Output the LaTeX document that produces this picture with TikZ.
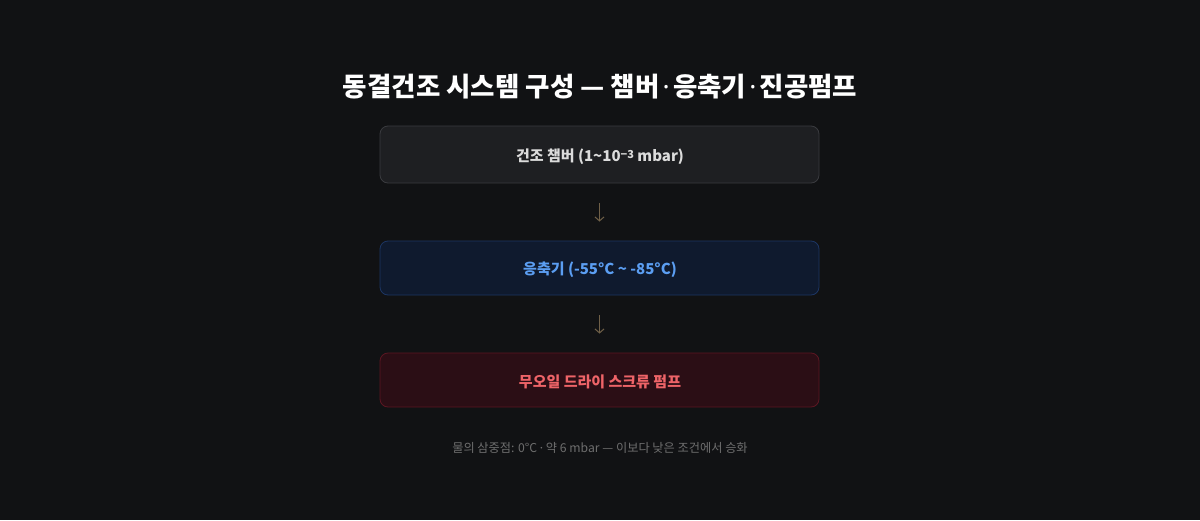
\documentclass[tikz,border=0pt]{standalone}
\usepackage{fontspec}
\setmainfont{Noto Sans CJK KR}
\newfontfamily\latinf{Noto Sans}
\newcommand{\mdot}{\hspace{0.12em}{\latinf ·}\hspace{0.12em}}
\usetikzlibrary{arrows.meta}
\definecolor{bg}{HTML}{111214}
\definecolor{boxAfill}{HTML}{1E1F22}
\definecolor{boxAdraw}{HTML}{3A3B3F}
\definecolor{boxAtext}{HTML}{DCDCDC}
\definecolor{boxBfill}{HTML}{0F1A2E}
\definecolor{boxBdraw}{HTML}{1C3563}
\definecolor{boxBtext}{HTML}{5B9EF2}
\definecolor{boxCfill}{HTML}{2B0E15}
\definecolor{boxCdraw}{HTML}{5C1622}
\definecolor{boxCtext}{HTML}{EE6468}
\definecolor{arrowc}{HTML}{706048}
\definecolor{notec}{HTML}{6E6E6E}
\tikzset{
  x=1pt,y=-1pt,
  stagebox/.style={rectangle,rounded corners=8pt,minimum width=439pt,line width=0.8pt,
    inner sep=0pt,font=\fontsize{15}{17}\selectfont\bfseries},
  stagetext/.style={font=\fontsize{15}{17}\selectfont\bfseries,inner sep=0pt},
  flowarrow/.style={draw=arrowc,line width=1pt,-{Straight Barb[length=4pt,width=9pt]},
    shorten <=20pt,shorten >=19pt},
}
\begin{document}
\begin{tikzpicture}
\fill[bg] (0,0) rectangle (1200,520);
\useasboundingbox (0,0) rectangle (1200,520);
\node[text=white,font=\fontsize{26.5}{30}\selectfont\bfseries] (title) at (600,87) {동결건조 시스템 구성 — 챔버\mdot 응축기\mdot 진공펌프};
\node[stagebox,fill=boxAfill,draw=boxAdraw,minimum height=57pt] (chamber) at (599.5,154.5) {};
\node[stagetext,text=boxAtext] (chambertext) at (600,156.5)
  {건조 챔버 (1\textasciitilde 10{\fontsize{11}{11}\selectfont\raisebox{0.55ex}{−3}} mbar)};
\node[stagebox,fill=boxBfill,draw=boxBdraw,minimum height=54pt] (cond) at (599.5,268) {};
\node[stagetext,text=boxBtext] (condtext) at (600,270)
  {응축기 (-55°C \textasciitilde\ -85°C)};
\node[stagebox,fill=boxCfill,draw=boxCdraw,minimum height=54pt] (pump) at (599.5,380) {};
\node[stagetext,text=boxCtext] (pumptext) at (600,382)
  {무오일 드라이 스크류 펌프};
\draw[flowarrow] (chamber) -- (cond);
\draw[flowarrow] (cond) -- (pump);
\node[text=notec,font=\fontsize{12.2}{14}\selectfont] (note) at (600,448)
  {물의 삼중점: 0°C {\latinf ·} 약 6 mbar — 이보다 낮은 조건에서 승화};
\end{tikzpicture}
\end{document}
